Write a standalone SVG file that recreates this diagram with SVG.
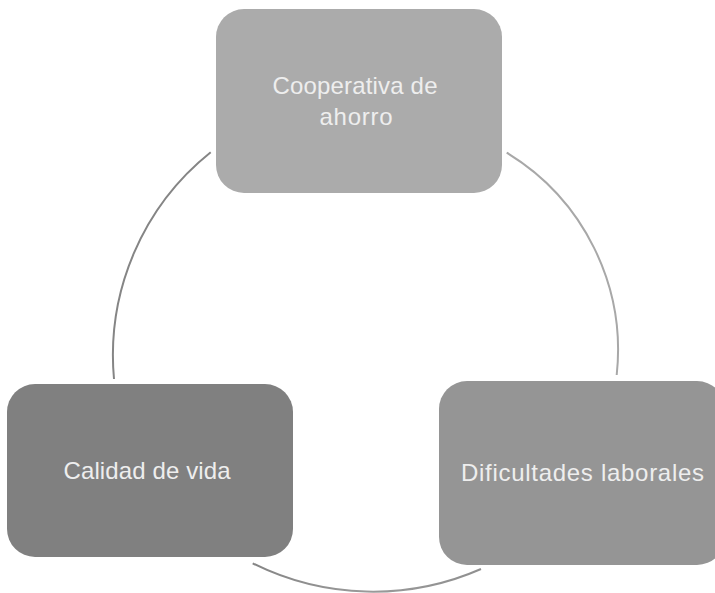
<svg xmlns="http://www.w3.org/2000/svg" width="715" height="593" viewBox="0 0 715 593">
<defs>
<style>
.lbl{font-family:"Liberation Sans",Arial,sans-serif;font-size:24px;fill:#eeeeee;text-anchor:middle}
.arc{fill:none;stroke-width:2}
</style>
<linearGradient id="gB" x1="252" y1="0" x2="482" y2="0" gradientUnits="userSpaceOnUse">
<stop offset="0" stop-color="#858585"/>
<stop offset="0.5" stop-color="#9a9a9a"/>
<stop offset="1" stop-color="#8f8f8f"/>
</linearGradient>
</defs>
<rect width="715" height="593" fill="#ffffff"/>
<g id="connectors">
<path class="arc" stroke="#858585" d="M 210.7 152.3 A 260 260 0 0 0 114 379"/>
<path class="arc" stroke="#a8a8a8" d="M 506.7 152.7 A 231 231 0 0 1 616.7 375"/>
<path class="arc" stroke="url(#gB)" d="M 252.7 563.3 A 269 269 0 0 0 481 569"/>
</g>
<g id="node-cooperativa">
<rect x="216" y="9" width="286" height="184" rx="28" fill="#ababab"/>
<text class="lbl" x="355" y="94" textLength="165" lengthAdjust="spacing">Cooperativa de</text>
<text class="lbl" x="356" y="125" textLength="73" lengthAdjust="spacing">ahorro</text>
</g>
<g id="node-calidad">
<rect x="7" y="384" width="286" height="173" rx="28" fill="#808080"/>
<text class="lbl" x="147" y="479" textLength="167" lengthAdjust="spacing">Calidad de vida</text>
</g>
<g id="node-dificultades">
<rect x="439" y="381" width="286" height="184" rx="28" fill="#959595"/>
<text class="lbl" x="582.5" y="481" textLength="243" lengthAdjust="spacing">Dificultades laborales</text>
</g>
</svg>
